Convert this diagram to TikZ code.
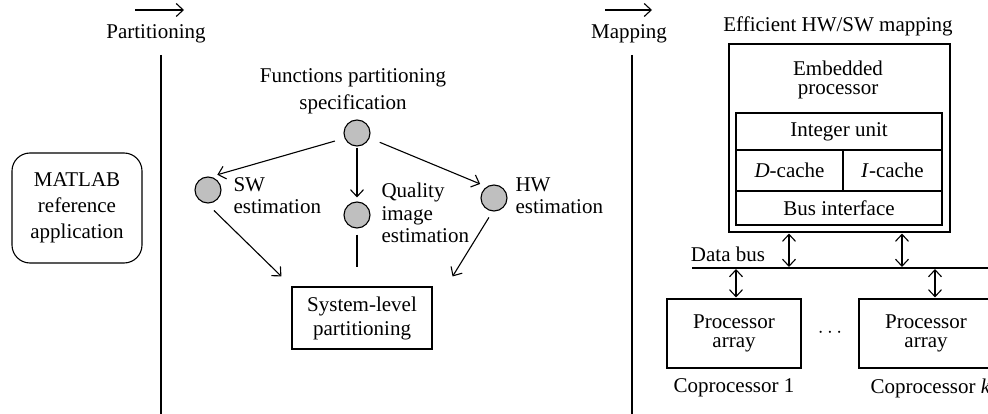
\documentclass[tikz,border=0pt]{standalone}
\usepackage{fontspec}
\setmainfont{Liberation Serif}
\usetikzlibrary{arrows.meta,calc}
\begin{document}
\begin{tikzpicture}[x=1pt,y=-1pt,
  font=\fontsize{21}{24}\selectfont,
  line width=1.1pt,
  tipr/.style={-{Straight Barb[length=7pt,width=13pt,line width=1.1pt]}},
  tipboth/.style={{Straight Barb[length=7pt,width=13pt,line width=1.1pt]}-{Straight Barb[length=7pt,width=13pt,line width=1.1pt]}},
  dot/.style={circle,draw,fill=black!25,minimum size=26pt,inner sep=0pt},
  box/.style={draw,rectangle,inner sep=0pt},
  lbl/.style={inner sep=0pt},
  stack/.style={lbl,align=center},
  side/.style={lbl,anchor=west,align=left}]
\useasboundingbox (0,0) rectangle (988,414);
\clip (0,0) rectangle (988,414);

% column headers and separators
\coordinate (pa1) at (135,10);
\coordinate (pa2) at (184,10);
\draw[tipr] (pa1) -- (pa2);
\node[lbl] (part) at (156,34) {Partitioning};
\coordinate (s1t) at (161,55);
\coordinate (s1b) at (161,414);
\draw (s1t) -- (s1b);

\coordinate (ma1) at (605,10);
\coordinate (ma2) at (652,10);
\draw[tipr] (ma1) -- (ma2);
\node[lbl] (map) at (629,34) {Mapping};
\coordinate (s2t) at (632,55);
\coordinate (s2b) at (632,414);
\draw (s2t) -- (s2b);

% reference application
\node[draw,rounded corners=18pt,minimum width=130pt,minimum height=110pt,
      align=center,font=\fontsize{21}{26}\selectfont] (matlab) at (77,208)
      {MATLAB\\reference\\application};

% partitioning tree
\node[stack,font=\fontsize{21}{27}\selectfont] (spec) at (353,91) {Functions partitioning\\specification};
\node[dot] (top) at (357,133) {};
\node[dot] (sw) at (208,190) {};
\node[dot] (qi) at (357,215) {};
\node[dot] (hw) at (494,198) {};
\node[side,font=\fontsize{21}{22}\selectfont] (swl) at (233,196) {SW\\estimation};
\node[side,font=\fontsize{21}{22.5}\selectfont] (qil) at (381,213) {Quality\\image\\estimation};
\node[side,font=\fontsize{21}{22}\selectfont] (hwl) at (515,196) {HW\\estimation};
\node[box,minimum width=140pt,minimum height=62pt,align=center,
      font=\fontsize{21}{24}\selectfont] (sys) at (362,318) {System-level\\partitioning};

\draw[tipr,shorten <=10pt,shorten >=7pt] (top.203) -- (sw.79);
\draw[tipr,shorten <=1pt,shorten >=4pt] (top) -- (qi);
\draw[tipr,shorten <=11pt,shorten >=7pt] (top.338) -- (hw.123);
\draw[tipr,shorten <=10pt] (sw.265) -- ($(sys.north west)+(-10,-10)$);
\draw[tipr,shorten <=7pt] (hw.264) -- ($(sys.north east)+(20,-10)$);
\coordinate (qe) at (357,267);
\draw[shorten <=6pt] (qi) -- (qe);

% embedded processor
\node[lbl] (eff) at (838,26) {Efficient HW/SW mapping};
\node[box,minimum width=221pt,minimum height=188pt] (emb) at (839.5,138) {};
\node[stack,font=\fontsize{21}{19}\selectfont] (embl) at (838,80) {Embedded\\processor};
\node[box,minimum width=206pt,minimum height=37pt] (iu) at (839,131.5) {Integer unit};
\node[box,minimum width=107pt,minimum height=41pt] (dc) at (789.5,170.5) {\textit{D}-cache};
\node[box,minimum width=99pt,minimum height=41pt] (ic) at (892.5,170.5) {\textit{I}-cache};
\node[box,minimum width=206pt,minimum height=34pt] (bi) at (839,208) {Bus interface};

% data bus
\coordinate (busl) at (692,268);
\coordinate (busr) at (990,268);
\draw (busl) -- (busr);
\node[lbl] (dbus) at (728,254) {Data bus};
\coordinate (b1) at (789,268);
\coordinate (b2) at (902,268);
\draw[tipboth,shorten <=1pt,shorten >=1pt] (emb.south -| b1) -- (b1);
\draw[tipboth,shorten <=1pt,shorten >=1pt] (emb.south -| b2) -- (b2);

% coprocessors
\node[box,minimum width=134pt,minimum height=69pt,align=center,
      font=\fontsize{21}{19}\selectfont] (cp1) at (734,333.5) {Processor\\array};
\node[box,minimum width=134pt,minimum height=69pt,align=center,
      font=\fontsize{21}{19}\selectfont] (cpk) at (926,333.5) {Processor\\array};
\node[lbl] (dots) at (830,333) {$\cdots$};
\coordinate (c1) at (736,268);
\coordinate (ck) at (935,268);
\draw[tipboth,shorten <=1pt,shorten >=1pt] (c1) -- (c1 |- cp1.north);
\draw[tipboth,shorten <=1pt,shorten >=1pt] (ck) -- (ck |- cpk.north);
\node[lbl] (cp1l) at (734,388) {Coprocessor 1};
\node[lbl,anchor=east] (cpkl) at (991,388) {Coprocessor \textit{k}};
\end{tikzpicture}
\end{document}
